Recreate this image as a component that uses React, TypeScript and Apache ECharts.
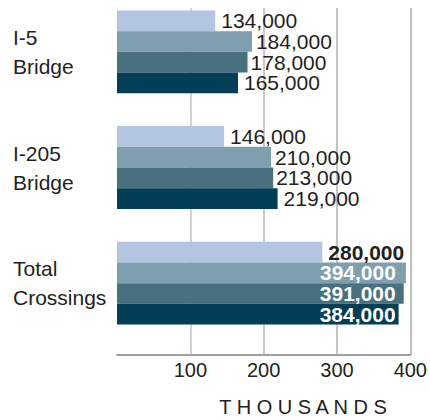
import React, { useEffect, useRef } from "react";
import * as echarts from "echarts";

const categories = ["I-5\nBridge", "I-205\nBridge", "Total\nCrossings"];
const seriesA = [134, 146, 280];
const seriesB = [184, 210, 394];
const seriesC = [178, 213, 391];
const seriesD = [165, 219, 384];
const tickValues = [0, 100, 200, 300, 400];
const axisTitle = "T H O U S A N D S";

const colors = ["#b3c6e1", "#7f9eaf", "#48707f", "#023e56"];
const outsideDistance = [6, 4, 3, 6];
const insideDistance = [6, 10, 8, 3];
const FONT = "'Liberation Sans', Arial, sans-serif";
const NARROW = "'Liberation Sans Narrow', 'Arial Narrow', 'Liberation Sans', sans-serif";

export default function App() {
  const ref = useRef<HTMLDivElement>(null);
  useEffect(() => {
    if (!ref.current) return;
    const chart = echarts.init(ref.current, null, { renderer: "svg" });
    const fmt = (p: any) => `${p.value},000`;
    const mkSeries = (vals: number[], i: number) => ({
      type: "bar",
      name: "s" + i,
      barWidth: 20.7,
      barGap: "0%",
      itemStyle: { color: colors[i] },
      label: {
        show: true,
        position: "right",
        distance: outsideDistance[i],
        fontFamily: FONT,
        fontSize: 21,
        color: "#231f20",
        formatter: fmt,
      },
      data: vals.map((v, j) =>
        j === 2
          ? {
              value: v,
              label:
                i === 0
                  ? { fontWeight: "bold", position: "right", distance: 6 }
                  : {
                      fontWeight: "bold",
                      position: "insideRight",
                      color: "#ffffff",
                      distance: insideDistance[i],
                    },
            }
          : v
      ),
    });
    chart.setOption({
      animation: false,
      grid: { left: 117, right: 18, top: 8, bottom: 65, containLabel: false },
      title: {
        text: axisTitle,
        left: 298,
        top: 392,
        textAlign: "center",
        textStyle: {
          fontFamily: FONT,
          fontSize: 20,
          fontWeight: "normal",
          color: "#231f20",
        },
      },
      xAxis: {
        type: "value",
        min: tickValues[0],
        max: tickValues[tickValues.length - 1],
        interval: 100,
        axisLine: { show: true, lineStyle: { color: "#a0a0a0", width: 2 } },
        axisTick: { show: false },
        axisLabel: {
          margin: 5,
          fontFamily: NARROW,
          fontSize: 20,
          color: "#231f20",
          formatter: (v: number) => (v === 0 ? "" : String(v)),
        },
        splitLine: {
          show: true,
          lineStyle: {
            color: ["rgba(0,0,0,0)", "#c4c4c4", "#b8b8b8", "#b0b0b0", "#a8a8a8"],
            width: 1.5,
          },
        },
      },
      yAxis: {
        type: "category",
        inverse: true,
        data: categories,
        axisLine: { show: false },
        axisTick: { show: false },
        splitLine: { show: false },
        axisLabel: {
          align: "left",
          margin: 104,
          fontFamily: FONT,
          fontSize: 21,
          lineHeight: 29,
          color: "#231f20",
          formatter: (v: string) => `{a|${v.split("\n")[0]}}\n{a|${v.split("\n")[1]}}\n{b| }`,
          rich: {
            a: { fontFamily: FONT, fontSize: 21, lineHeight: 29, color: "#231f20" },
            b: { fontSize: 10, lineHeight: 28 },
          },
        },
      },
      series: [
        mkSeries(seriesA, 0),
        mkSeries(seriesB, 1),
        mkSeries(seriesC, 2),
        mkSeries(seriesD, 3),
        {
          type: "bar",
          name: "spacer",
          barWidth: 28,
          barGap: "0%",
          silent: true,
          itemStyle: { color: "rgba(0,0,0,0)" },
          data: [],
        },
      ],
    });
    return () => chart.dispose();
  }, []);
  return (
    <div
      ref={ref}
      style={{ position: "absolute", left: 0, top: 0, width: 430, height: 420 }}
    />
  );
}
